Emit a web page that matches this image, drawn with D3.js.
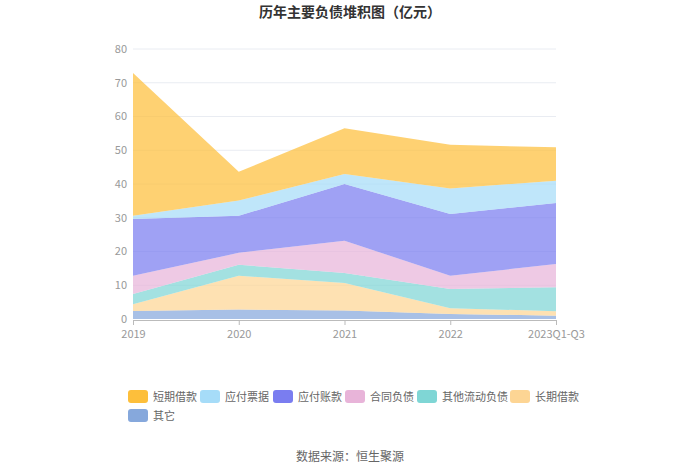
<!DOCTYPE html>
<html>
<head>
<meta charset="utf-8">
<script src="https://cdn.jsdelivr.net/npm/d3@7"></script>
<style>
  body { margin: 0; background: #fff; }
  text { font-family: "Noto Sans CJK SC", "Noto Sans", sans-serif; }
</style>
</head>
<body>
<script>
// data (亿元)
var years = ["2019", "2020", "2021", "2022", "2023Q1-Q3"];
var seriesNames = ["其它", "长期借款", "其他流动负债", "合同负债", "应付账款", "应付票据", "短期借款"];
var qita = [2.4, 2.8, 2.5, 1.5, 1.0];
var changqi = [2.0, 10.0, 8.2, 1.7, 1.3];
var qitaLiudong = [3.0, 3.3, 2.9, 5.7, 7.1];
var hetong = [5.4, 3.5, 9.6, 3.9, 6.9];
var yingfuZhang = [16.8, 11.0, 16.8, 18.3, 18.1];
var yingfuPiao = [1.0, 4.5, 3.0, 7.6, 6.6];
var duanqi = [42.3, 8.5, 13.5, 12.9, 9.9];
var yTicks = [0, 10, 20, 30, 40, 50, 60, 70, 80];
var legendOrder = ["短期借款", "应付票据", "应付账款", "合同负债", "其他流动负债", "长期借款", "其它"];

var colors = {
  "短期借款": "#fdbf3b",
  "应付票据": "#a6dcf8",
  "应付账款": "#7a7df0",
  "合同负债": "#e8b4d9",
  "其他流动负债": "#7fd6d5",
  "长期借款": "#fdd594",
  "其它": "#86a8dc"
};

var seriesData = [qita, changqi, qitaLiudong, hetong, yingfuZhang, yingfuPiao, duanqi];

var W = 700, H = 474;
var margin = { top: 49, left: 133, right: 144, bottom: 154 };

var svg = d3.select("body").append("svg").attr("width", W).attr("height", H);

var table = years.map(function (y, i) {
  var row = { year: y };
  seriesNames.forEach(function (n, k) { row[n] = seriesData[k][i]; });
  return row;
});

var stack = d3.stack().keys(seriesNames);
var layers = stack(table);

var x = d3.scalePoint().domain(years).range([margin.left, W - margin.right]);
var y = d3.scaleLinear().domain([0, 80]).range([H - margin.bottom - 1, margin.top]);

// gridlines
svg.append("g").selectAll("line").data(yTicks.slice(1)).enter().append("line")
  .attr("x1", margin.left).attr("x2", W - margin.right)
  .attr("y1", function (d) { return y(d); }).attr("y2", function (d) { return y(d); })
  .attr("stroke", "#e9ecf2").attr("stroke-width", 1);

var area = d3.area()
  .x(function (d) { return x(d.data.year); })
  .y0(function (d) { return y(d[0]); })
  .y1(function (d) { return y(d[1]); });

svg.append("g").selectAll("path").data(layers).enter().append("path")
  .attr("d", area)
  .attr("fill", function (d) { return colors[d.key]; })
  .attr("fill-opacity", 0.72);

// y axis labels
svg.append("g").selectAll("text").data(yTicks).enter().append("text")
  .attr("x", margin.left - 6).attr("y", function (d) { return y(d); })
  .attr("dy", "0.35em").attr("text-anchor", "end")
  .attr("font-size", 11).attr("fill", "#999")
  .text(function (d) { return d; });

// x axis
var xAxis = svg.append("g")
  .attr("transform", "translate(0," + (H - margin.bottom) + ")")
  .call(d3.axisBottom(x).tickSize(5).tickSizeOuter(0));
xAxis.select(".domain").attr("stroke", "#bbb");
xAxis.selectAll(".tick line").attr("stroke", "#bbb");
xAxis.selectAll(".tick text").attr("fill", "#999").attr("font-size", 11)
  .attr("dy", "0.9em").style("font-family", "'Noto Sans CJK SC', sans-serif");

// title
svg.append("text").attr("x", W / 2).attr("y", 17).attr("text-anchor", "middle")
  .attr("font-size", 14).attr("font-weight", "bold").attr("fill", "#333")
  .text("历年主要负债堆积图（亿元）");

// legend
var legendX = [128, 200, 273, 345, 417, 510, 128];
var legendY = [397, 397, 397, 397, 397, 397, 416];
var lg = svg.append("g").selectAll("g").data(legendOrder).enter().append("g")
  .attr("transform", function (d, i) { return "translate(" + legendX[i] + "," + legendY[i] + ")"; });
lg.append("rect").attr("x", 0).attr("y", -7).attr("width", 20).attr("height", 13).attr("rx", 3)
  .attr("fill", function (d) { return colors[d]; });
lg.append("text").attr("x", 25).attr("y", 0).attr("dy", "0.35em")
  .attr("font-size", 11).attr("fill", "#666")
  .text(function (d) { return d; });

// source
svg.append("text").attr("x", W / 2).attr("y", 457).attr("text-anchor", "middle")
  .attr("dy", "0.35em").attr("font-size", 12).attr("fill", "#666")
  .text("数据来源：恒生聚源");
</script>
</body>
</html>
